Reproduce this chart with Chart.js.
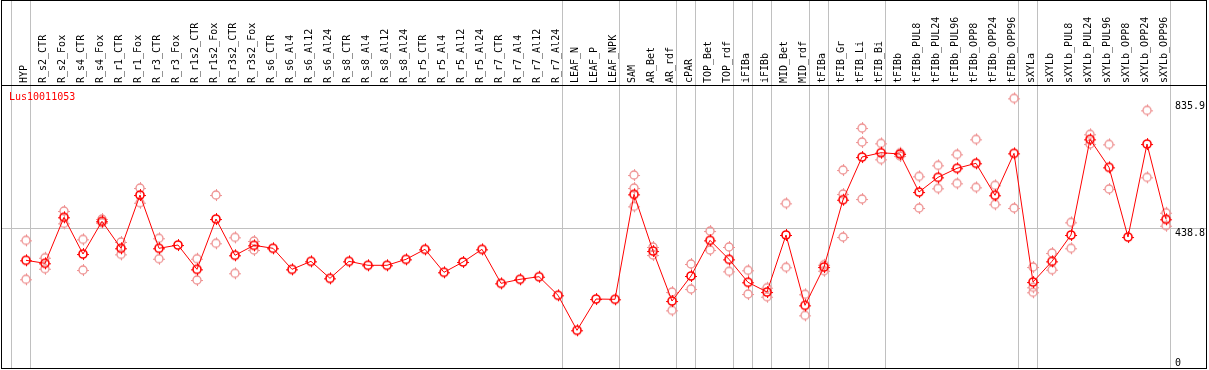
<!DOCTYPE html>
<html>
<head>
<meta charset="utf-8">
<title>Lus10011053</title>
<script src="https://cdn.jsdelivr.net/npm/chart.js@4.4.1/dist/chart.umd.min.js"></script>
<style>
  html, body { margin: 0; padding: 0; background: #fff; }
  #chart { display: block; }
</style>
</head>
<body>
<canvas id="chart" width="1209" height="370"></canvas>
<script>
const geneName = 'Lus10011053'

const categories = [
  'HYP', 'R_s2_CTR', 'R_s2_Fox', 'R_s4_CTR', 'R_s4_Fox', 'R_r1_CTR', 'R_r1_Fox', 'R_r3_CTR', 'R_r3_Fox',
  'R_r1s2_CTR', 'R_r1s2_Fox', 'R_r3s2_CTR', 'R_r3s2_Fox', 'R_s6_CTR', 'R_s6_Al4', 'R_s6_Al12', 'R_s6_Al24',
  'R_s8_CTR', 'R_s8_Al4', 'R_s8_Al12', 'R_s8_Al24', 'R_r5_CTR', 'R_r5_Al4', 'R_r5_Al12', 'R_r5_Al24',
  'R_r7_CTR', 'R_r7_Al4', 'R_r7_Al12', 'R_r7_Al24', 'LEAF_N', 'LEAF_P', 'LEAF_NPK', 'SAM', 'AR_Bet', 'AR_rdf',
  'cPAR', 'TOP_Bet', 'TOP_rdf', 'iFIBa', 'iFIBb', 'MID_Bet', 'MID_rdf', 'tFIBa', 'tFIB_Gr', 'tFIB_Li', 'tFIB_Bi',
  'tFIBb', 'tFIBb_PUL8', 'tFIBb_PUL24', 'tFIBb_PUL96', 'tFIBb_OPP8', 'tFIBb_OPP24', 'tFIBb_OPP96',
  'sXYLa', 'sXYLb', 'sXYLb_PUL8', 'sXYLb_PUL24', 'sXYLb_PUL96', 'sXYLb_OPP8', 'sXYLb_OPP24', 'sXYLb_OPP96',
]

const meanValues = [
  338.3, 328.9, 473.4, 358.1, 460.8, 376.0, 543.4, 376.0, 386.3, 310.0,
  468.0, 354.0, 385.4, 376.0, 310.0, 335.1, 281.7, 335.1, 322.6, 322.6,
  341.4, 372.8, 300.6, 333.0, 372.8, 266.0, 278.6, 286.8, 228.4, 118.4,
  216.7, 215.8, 545.6, 367.5, 210.4, 289.0, 401.1, 341.4, 269.2, 238.7,
  417.8, 196.9, 317.2, 528.6, 662.8, 676.3, 672.2, 552.8, 599.0, 627.3,
  643.0, 542.5, 674.4, 270.1, 335.1, 417.8, 718.3, 630.4, 411.5, 703.6, 467.1,
]

// single replicates, one list per sample (hidden ones sit under the mean marker)
const replicateValues = [
  [401.1, 278.6], [346.5, 311.9], [493.1, 454.5], [404.2, 307.8], [468.0, 456.4],
  [395.8, 357.1], [565.4, 519.2], [407.4, 343.3], [], [343.3, 276.4],
  [543.4, 391.7], [410.5, 297.5], [398.9, 370.6], [], [], [], [], [], [], [],
  [], [], [], [], [], [], [], [], [], [],
  [], [], [606.2, 565.4, 507.9], [380.1, 354.9], [238.7, 181.2],
  [326.7, 248.1], [430.3, 370.6], [380.1, 303.7], [306.9, 232.4], [252.2, 224.0],
  [517.3, 316.3], [231.5, 165.5], [324.5, 305.6], [621.9, 546.5, 411.5], [753.8, 709.9, 530.8],
  [705.8, 655.5], [676.3, 665.9], [602.1, 502.6], [636.7, 564.4], [671.2, 580.1],
  [718.3, 567.6], [573.9, 514.2], [847.1, 502.6], [317.2, 253.5, 237.8], [361.2, 308.8],
  [457.6, 376.0], [734.1, 703.6], [702.6, 562.2], [], [809.4, 599.0], [487.8, 447.0],
]

// index of the last sample in each group; a separator follows it
const groupEnds = [-1, 0, 28, 31, 34, 35, 37, 38, 39, 41, 42, 45, 52, 53, 60]

const yTickValues = [0, 438.8, 835.9]
const yTickLabels = ['0', '438.8', '835.9']

const FONT = 'DejaVu Sans Mono'
const X_MIN = -1.263
const X_MAX = 62.105
const Y_MAX = 889

function makeMarker(color, width) {
  const c = document.createElement('canvas')
  c.width = 14
  c.height = 14
  const g = c.getContext('2d')
  g.strokeStyle = color
  g.lineWidth = width
  g.beginPath()
  g.arc(7, 7, 4, 0, Math.PI * 2)
  g.stroke()
  g.lineWidth = 1
  g.beginPath()
  g.moveTo(7.5, 1); g.lineTo(7.5, 3)
  g.moveTo(7.5, 11); g.lineTo(7.5, 13)
  g.moveTo(1, 7.5); g.lineTo(3, 7.5)
  g.moveTo(11, 7.5); g.lineTo(13, 7.5)
  g.stroke()
  return c
}

// keep label overflow from shrinking the plot area
function noPadding(scale) {
  scale.paddingLeft = 0
  scale.paddingRight = 0
  scale.paddingTop = 0
  scale.paddingBottom = 0
}

const meanPoints = meanValues.map((v, i) => ({ x: i, y: v }))
const replicatePoints = []
replicateValues.forEach((list, i) => list.forEach(v => replicatePoints.push({ x: i, y: v })))

const framePlugin = {
  id: 'frame',
  beforeDatasetsDraw(chart) {
    const { ctx, chartArea, scales } = chart
    ctx.save()
    ctx.strokeStyle = '#c0c0c0'
    ctx.lineWidth = 1
    groupEnds.forEach(i => {
      const x = Math.round(scales.x.getPixelForValue(i + 0.23)) + 0.5
      ctx.beginPath()
      ctx.moveTo(x, 0)
      ctx.lineTo(x, chartArea.bottom)
      ctx.stroke()
    })
    ctx.restore()
  },
  afterDraw(chart) {
    const { ctx, chartArea } = chart
    ctx.save()
    ctx.strokeStyle = '#000'
    ctx.lineWidth = 1
    ctx.strokeRect(chartArea.left - 0.5, 0.5, chartArea.right - chartArea.left + 1, chartArea.bottom)
    ctx.beginPath()
    ctx.moveTo(chartArea.left, chartArea.top + 0.5)
    ctx.lineTo(chartArea.right, chartArea.top + 0.5)
    ctx.stroke()
    ctx.fillStyle = '#ff0000'
    ctx.font = '10px ' + FONT
    ctx.textBaseline = 'middle'
    ctx.fillText(geneName, chartArea.left + 7, chartArea.top + 12)
    ctx.restore()
  },
}

new Chart(document.getElementById('chart'), {
  type: 'line',
  data: {
    datasets: [
      {
        label: geneName,
        data: meanPoints,
        borderColor: '#ff0000',
        borderWidth: 1,
        tension: 0,
        pointStyle: makeMarker('#ff0000', 1.6),
        pointRadius: 6,
      },
      {
        label: 'replicates',
        data: replicatePoints,
        showLine: false,
        pointStyle: makeMarker('#ee9090', 1.3),
        pointRadius: 6,
      },
    ],
  },
  options: {
    responsive: false,
    animation: false,
    devicePixelRatio: 1,
    layout: { autoPadding: false, padding: { left: 2, right: 3, top: 0, bottom: 2 } },
    plugins: {
      legend: { display: false },
      tooltip: { enabled: false },
    },
    scales: {
      x: {
        type: 'linear',
        min: X_MIN,
        max: X_MAX,
        display: false,
        ticks: { display: false },
        afterFit(scale) {
          scale.height = 0
          noPadding(scale)
        },
      },
      xTop: {
        type: 'linear',
        position: 'top',
        min: X_MIN,
        max: X_MAX,
        afterBuildTicks(scale) {
          scale.ticks = categories.map((_, i) => ({ value: i }))
        },
        afterFit(scale) {
          scale.height = 85
          noPadding(scale)
        },
        ticks: {
          autoSkip: false,
          minRotation: 90,
          maxRotation: 90,
          padding: 2,
          labelOffset: 10,
          color: '#000',
          font: { family: FONT, size: 10 },
          callback: (value) => categories[value],
        },
        grid: { display: false, drawTicks: false },
        border: { display: false },
      },
      y: {
        position: 'right',
        min: 0,
        max: Y_MAX,
        afterBuildTicks(scale) {
          scale.ticks = yTickValues.map(v => ({ value: v }))
        },
        afterFit(scale) {
          scale.width = 0
          noPadding(scale)
        },
        ticks: {
          mirror: true,
          crossAlign: 'far',
          padding: -1,
          labelOffset: 5,
          color: '#000',
          font: (ctx) => ({ family: FONT, size: 10, lineHeight: ctx.index === 0 ? '20px' : 1.2 }),
          callback: (value, i) => (i === 0 ? [yTickLabels[i], ''] : yTickLabels[i]),
        },
        grid: {
          drawTicks: false,
          color: (ctx) => (ctx.tick && ctx.tick.value === 438.8 ? '#c0c0c0' : 'rgba(0,0,0,0)'),
        },
        border: { display: false },
      },
    },
  },
  plugins: [framePlugin],
})
</script>
</body>
</html>
